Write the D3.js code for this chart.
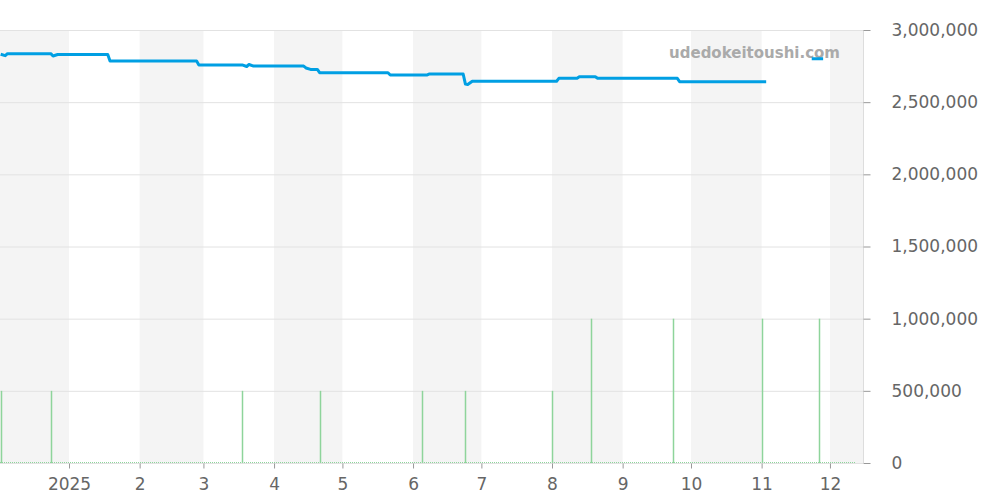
<!DOCTYPE html>
<html>
<head>
<meta charset="utf-8">
<script src="https://cdn.jsdelivr.net/npm/d3@7"></script>
<style>
  body { margin: 0; background: #fff; }
  svg { display: block; font-family: "DejaVu Sans", sans-serif; }
</style>
</head>
<body>
<svg></svg>
<script>
// price line (null = gap)
const priceDates = [
  "2024-12-02", "2024-12-04", "2024-12-05", "2024-12-24", "2024-12-25", "2024-12-27",
  "2025-01-18", "2025-01-19", "2025-02-26", "2025-02-27", "2025-03-18", "2025-03-20",
  "2025-03-21", "2025-03-23", "2025-04-14", "2025-04-15", "2025-04-17", "2025-04-20",
  "2025-04-21", "2025-05-21", "2025-05-22", "2025-06-07", "2025-06-08", "2025-06-23",
  "2025-06-24", "2025-06-25", "2025-06-27", "2025-08-03", "2025-08-04", "2025-08-12",
  "2025-08-13", "2025-08-20", "2025-08-21", "2025-09-25", "2025-09-26", "2025-11-03",
  "2025-11-10", "2025-11-23", "2025-11-28"
]
const priceValues = [
  2832000, 2822000, 2836000, 2836000, 2820000, 2830000,
  2830000, 2785000, 2785000, 2758000, 2758000, 2747000,
  2761000, 2750000, 2750000, 2737000, 2727000, 2727000,
  2704000, 2704000, 2688000, 2688000, 2695000, 2695000,
  2625000, 2622000, 2645000, 2645000, 2665000, 2665000,
  2676000, 2676000, 2665000, 2665000, 2642000, 2642000,
  null, 2800000, 2800000
]

// volume spikes
const volumeDates = [
  "2024-12-02", "2024-12-24", "2025-03-18", "2025-04-21", "2025-06-05", "2025-06-24",
  "2025-08-01", "2025-08-18", "2025-09-23", "2025-11-01", "2025-11-26"
]
const volumeValues = [
  500000, 500000, 500000, 500000, 500000, 500000,
  500000, 1000000, 1000000, 1000000, 1000000
]

const yTicks = [0, 500000, 1000000, 1500000, 2000000, 2500000, 3000000]

const width = 1000
const height = 500
const plotW = 863
const plotTop = 30
const plotBottom = 463

const parse = d3.utcParse("%Y-%m-%d")

const svg = d3.select("svg")
  .attr("width", width)
  .attr("height", height)

const x = d3.scaleUtc()
  .domain([new Date(Date.UTC(2024, 11, 1, 17)), new Date(Date.UTC(2025, 11, 15, 12))])
  .range([0, plotW])

const y = d3.scaleLinear()
  .domain([0, 3000000])
  .range([plotBottom, plotTop])

// alternating month bands
const months = d3.utcMonth.range(new Date(Date.UTC(2024, 11, 1)), new Date(Date.UTC(2026, 0, 1)))
svg.append("g")
  .selectAll("rect")
  .data(months.filter((d, i) => i % 2 == 0))
  .enter().append("rect")
    .attr("x", d => Math.max(0, x(d)))
    .attr("width", d => Math.min(plotW, x(d3.utcMonth.offset(d, 1))) - Math.max(0, x(d)))
    .attr("y", plotTop)
    .attr("height", plotBottom - plotTop)
    .attr("fill", "#f4f4f4")

// grid
svg.append("g")
  .selectAll("line")
  .data(yTicks)
  .enter().append("line")
    .attr("x1", 0)
    .attr("x2", plotW)
    .attr("y1", d => y(d) + 0.5)
    .attr("y2", d => y(d) + 0.5)
    .attr("stroke", "#e2e2e2")

// right axis
const yAxis = svg.append("g")
  .attr("transform", `translate(${plotW + 0.5},0)`)
  .call(d3.axisRight(y).tickValues(yTicks).tickSize(7).tickPadding(21).tickFormat(d3.format(",")))
yAxis.select(".domain").attr("stroke", "#ddd").attr("d", `M0,${plotTop}V${plotBottom}`)
yAxis.selectAll(".tick line").attr("stroke", "#999")
yAxis.selectAll("text")
  .attr("fill", "#666")
  .attr("font-size", 17)
  .attr("font-family", "DejaVu Sans, sans-serif")

// bottom axis
const xAxis = svg.append("g")
  .attr("transform", `translate(0,${plotBottom + 0.5})`)
  .call(d3.axisBottom(x)
    .tickValues(d3.utcMonth.range(new Date(Date.UTC(2025, 0, 1)), new Date(Date.UTC(2025, 11, 2))))
    .tickSize(5)
    .tickPadding(9)
    .tickFormat(d => d.getUTCMonth() == 0 ? d.getUTCFullYear() : d.getUTCMonth() + 1))
xAxis.select(".domain").remove()
xAxis.selectAll(".tick line").attr("stroke", "#999")
xAxis.selectAll("text")
  .attr("fill", "#666")
  .attr("font-size", 17)
  .attr("font-family", "DejaVu Sans, sans-serif")

// volume baseline + spikes
svg.append("line")
  .attr("x1", 0)
  .attr("x2", x(parse("2025-12-12")))
  .attr("y1", y(0) - 0.5)
  .attr("y2", y(0) - 0.5)
  .attr("stroke", "#8ed49b")
  .attr("stroke-dasharray", "1,1")

svg.append("g")
  .selectAll("line")
  .data(volumeDates.map((d, i) => ({ date: parse(d), value: volumeValues[i] })))
  .enter().append("line")
    .attr("x1", d => Math.round(x(d.date)) + 0.5)
    .attr("x2", d => Math.round(x(d.date)) + 0.5)
    .attr("y1", y(0))
    .attr("y2", d => y(d.value))
    .attr("stroke", "#8ed49b")
    .attr("stroke-width", 1.5)

// watermark
svg.append("text")
  .attr("x", 840)
  .attr("y", 58)
  .attr("text-anchor", "end")
  .attr("font-size", 15)
  .attr("font-weight", "bold")
  .attr("fill", "#aaa")
  .text("udedokeitoushi.com")

// price line
const priceData = priceDates.map((d, i) => ({ date: parse(d), value: priceValues[i] }))
const line = d3.line()
  .defined(d => d.value != null)
  .x(d => x(d.date))
  .y(d => y(d.value))

svg.append("path")
  .datum(priceData)
  .attr("d", line)
  .attr("fill", "none")
  .attr("stroke", "#009fe3")
  .attr("stroke-width", 3)
  .attr("stroke-linejoin", "round")
</script>
</body>
</html>
